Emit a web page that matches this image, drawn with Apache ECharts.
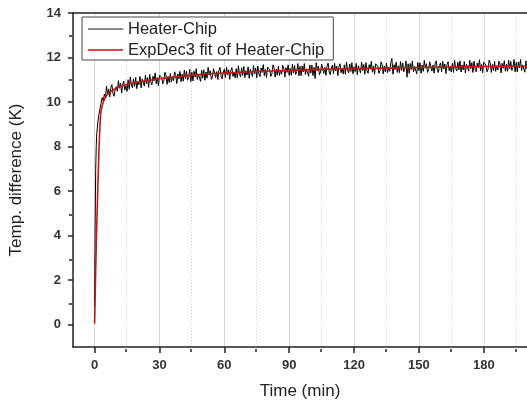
<!DOCTYPE html>
<html><head><meta charset="utf-8">
<script src="https://cdn.jsdelivr.net/npm/echarts@6/dist/echarts.min.js"></script>
<style>html,body{margin:0;padding:0;background:#fff}#c{width:527px;height:405px}</style>
</head><body><div id="c"></div><script>
// measured data (Heater-Chip), time in min
const dataTime = [0,0.25,0.5,0.75,1,1.5,2,2.5,3,3.5,4,4.5,5,
5.5,6,6.5,7,7.5,8,8.5,9,9.5,10,10.5,11,11.5,12,12.5,13,13.5,14,14.5,15,
15.5,16,16.5,17,17.5,18,18.5,19,19.5,20,20.5,21,21.5,22,22.5,23,23.5,24,24.5,25,
25.5,26,26.5,27,27.5,28,28.5,29,29.5,30,30.5,31,31.5,32,32.5,33,33.5,34,34.5,35,
35.5,36,36.5,37,37.5,38,38.5,39,39.5,40,40.5,41,41.5,42,42.5,43,43.5,44,44.5,45,
45.5,46,46.5,47,47.5,48,48.5,49,49.5,50,50.5,51,51.5,52,52.5,53,53.5,54,54.5,55,
55.5,56,56.5,57,57.5,58,58.5,59,59.5,60,60.5,61,61.5,62,62.5,63,63.5,64,64.5,65,
65.5,66,66.5,67,67.5,68,68.5,69,69.5,70,70.5,71,71.5,72,72.5,73,73.5,74,74.5,75,
75.5,76,76.5,77,77.5,78,78.5,79,79.5,80,80.5,81,81.5,82,82.5,83,83.5,84,84.5,85,
85.5,86,86.5,87,87.5,88,88.5,89,89.5,90,90.5,91,91.5,92,92.5,93,93.5,94,94.5,95,
95.5,96,96.5,97,97.5,98,98.5,99,99.5,100,100.5,101,101.5,102,102.5,103,103.5,104,104.5,105,
105.5,106,106.5,107,107.5,108,108.5,109,109.5,110,110.5,111,111.5,112,112.5,113,113.5,114,114.5,115,
115.5,116,116.5,117,117.5,118,118.5,119,119.5,120,120.5,121,121.5,122,122.5,123,123.5,124,124.5,125,
125.5,126,126.5,127,127.5,128,128.5,129,129.5,130,130.5,131,131.5,132,132.5,133,133.5,134,134.5,135,
135.5,136,136.5,137,137.5,138,138.5,139,139.5,140,140.5,141,141.5,142,142.5,143,143.5,144,144.5,145,
145.5,146,146.5,147,147.5,148,148.5,149,149.5,150,150.5,151,151.5,152,152.5,153,153.5,154,154.5,155,
155.5,156,156.5,157,157.5,158,158.5,159,159.5,160,160.5,161,161.5,162,162.5,163,163.5,164,164.5,165,
165.5,166,166.5,167,167.5,168,168.5,169,169.5,170,170.5,171,171.5,172,172.5,173,173.5,174,174.5,175,
175.5,176,176.5,177,177.5,178,178.5,179,179.5,180,180.5,181,181.5,182,182.5,183,183.5,184,184.5,185,
185.5,186,186.5,187,187.5,188,188.5,189,189.5,190,190.5,191,191.5,192,192.5,193,193.5,194,194.5,195,
195.5,196,196.5,197,197.5,198,198.5,199,199.5,200];
const dataTemp = [0.8,4.5,7.0,8.0,8.6,9.1,9.45,9.7,9.95,10.2,10.05,10.35,10.2,
10.72,10.32,10.59,10.23,10.65,10.78,10.38,10.26,10.56,10.69,
10.49,10.96,10.62,10.84,10.41,10.81,10.94,10.54,10.73,10.48,
11.00,10.58,11.13,10.77,10.64,11.04,10.70,11.10,10.60,10.91,
10.78,11.15,10.64,11.04,10.97,10.72,11.21,10.83,11.10,10.66,
11.25,10.89,10.77,11.16,10.96,11.31,10.82,11.10,10.73,11.20,
11.25,11.12,10.82,10.94,11.34,11.21,10.79,11.15,10.88,11.28,
10.90,11.15,10.96,11.36,11.23,10.83,11.26,11.04,11.38,10.91,
11.25,10.94,11.44,11.04,11.38,10.98,11.11,11.47,10.92,11.34,
10.95,11.39,11.12,11.50,11.01,11.26,11.33,10.93,11.44,11.07,
11.45,10.98,11.35,11.07,11.56,11.21,11.41,11.02,11.14,11.50,
11.50,11.10,11.37,11.01,11.43,11.56,11.16,11.04,11.34,11.47,
11.10,11.57,11.23,11.45,11.02,11.42,11.55,11.15,11.34,11.09,
11.50,11.08,11.63,11.27,11.14,11.54,11.20,11.60,11.10,11.41,
11.21,11.58,11.07,11.47,11.40,11.15,11.64,11.26,11.53,11.09,
11.62,11.26,11.14,11.53,11.33,11.68,11.19,11.47,11.10,11.57,
11.58,11.45,11.15,11.27,11.67,11.54,11.12,11.48,11.21,11.61,
11.19,11.44,11.25,11.65,11.52,11.12,11.55,11.33,11.67,11.20,
11.51,11.20,11.70,11.30,11.64,11.24,11.37,11.73,11.18,11.60,
11.18,11.62,11.35,11.73,11.24,11.49,11.56,11.16,11.67,11.30,
11.66,11.19,11.56,11.05,11.77,11.42,11.62,11.23,11.35,11.71,
11.69,11.29,11.56,11.20,11.62,11.75,11.35,11.23,11.53,11.66,
11.27,11.74,11.40,11.62,11.19,11.59,11.72,11.32,11.51,11.26,
11.67,11.25,11.80,11.44,11.31,11.71,11.37,11.77,11.27,11.58,
11.37,11.74,11.23,11.63,11.56,11.31,11.80,11.42,11.69,11.25,
11.77,11.41,11.29,11.68,11.48,11.83,11.34,11.62,11.25,11.72,
11.72,11.59,11.29,11.41,11.81,11.68,11.26,11.62,11.35,11.75,
11.32,11.57,11.38,11.78,11.96,11.25,11.68,11.46,11.80,11.33,
11.63,11.32,11.82,11.42,11.76,11.36,11.49,11.85,11.12,11.72,
11.29,11.73,11.46,11.84,11.35,11.60,11.67,11.27,11.78,11.41,
11.76,11.29,11.66,11.38,11.87,11.52,11.72,11.33,11.45,11.81,
11.79,11.39,11.66,11.30,11.72,11.85,11.45,11.33,11.63,11.76,
11.36,11.83,11.49,11.71,11.28,11.68,11.81,11.41,11.60,11.35,
11.75,11.33,11.88,11.52,11.39,11.79,11.45,11.85,11.35,11.66,
11.45,11.82,11.31,11.71,11.64,11.39,11.88,11.50,11.77,11.33,
11.84,11.48,11.36,11.75,11.55,11.90,11.41,11.69,11.32,11.79,
11.79,11.66,11.36,11.48,11.88,11.75,11.33,11.69,11.42,11.82,
11.38,11.63,11.44,11.84,11.71,11.31,11.74,11.52,11.86,11.39,
11.69,11.38,11.88,11.48,11.82,11.42,11.55,11.91,11.36,11.78,
11.36,11.80,11.53,11.91,11.42,11.67,11.74,11.34,11.85,11.48];
// ExpDec3 fit curve
const fitTime = [0,0.5,1,1.5,2,2.5,3,4,5,6,8,10,15,20,30,40,50,60,75,90,105,120,150,180,200];
const fitTemp = [0.05,2.5,4.5,6.2,7.8,9.0,9.6,10.0,10.2,10.35,10.5,10.62,10.8,10.9,11.05,11.15,11.25,11.3,11.37,11.42,11.47,11.5,11.55,11.6,11.62];
// axis ticks
const xMajorTicks = [0,30,60,90,120,150,180];
const xMinorTicks = [15,45,75,105,135,165,195];
const yMajorTicks = [0,2,4,6,8,10,12,14];
const yMinorTicks = [1,3,5,7,9,11,13];
const seriesNames = ['Heater-Chip','ExpDec3 fit of Heater-Chip'];

const FF = '"Liberation Sans", Arial, sans-serif';
const chart = echarts.init(document.getElementById('c'), null, {renderer:'canvas'});
const gridRect = {left:72, top:13, right:0, bottom:56};
const pair = (xs, ys) => xs.map((x,i)=>[x, ys[i]]);
chart.setOption({
  animation:false,
  backgroundColor:'#fff',
  grid:[Object.assign({}, gridRect), Object.assign({}, gridRect)],
  legend:{
    show:true, orient:'vertical', left:82, top:17,
    padding:[3,9,1,6], itemGap:3, itemWidth:35, itemHeight:2, icon:'rect',
    borderColor:'#444', borderWidth:1, borderRadius:0, backgroundColor:'#fff',
    textStyle:{fontFamily:FF, fontSize:16.5, color:'#222', lineHeight:18},
    data:[
      {name:seriesNames[0], itemStyle:{color:'#8a8a8a'}},
      {name:seriesNames[1], itemStyle:{color:'#e04848'}}
    ]
  },
  xAxis:[
    {type:'value', gridIndex:0, position:'bottom', min:-10, max:200,
     name:'Time (min)', nameLocation:'middle', nameGap:36,
     nameTextStyle:{fontFamily:FF, fontSize:17, color:'#222'},
     axisLine:{show:true, onZero:false, lineStyle:{color:'#222', width:1.5}},
     axisTick:{show:true, inside:false, length:6, customValues:xMajorTicks, lineStyle:{color:'#222', width:1.5}},
     axisLabel:{customValues:xMajorTicks, margin:12, fontFamily:FF, fontSize:13, fontWeight:'bold', color:'#333'},
     splitLine:{show:true, lineStyle:{color:'#d6d6d6', width:1, type:'solid'}}},
    {type:'value', gridIndex:0, position:'top', min:-10, max:200,
     axisLine:{show:true, onZero:false, lineStyle:{color:'#222', width:1.5}},
     axisTick:{show:false}, axisLabel:{show:false}, splitLine:{show:false}},
    {type:'value', gridIndex:1, position:'bottom', min:-10, max:200,
     axisLine:{show:false, onZero:false},
     axisTick:{show:true, inside:false, length:3, customValues:xMinorTicks, lineStyle:{color:'#222', width:1.5}},
     axisLabel:{show:false},
     splitLine:{show:true, lineStyle:{color:'#cfcfcf', width:1, type:[1,2]}}}
  ],
  yAxis:[
    {type:'value', gridIndex:0, min:-1, max:14,
     name:'Temp. difference (K)', nameLocation:'middle', nameGap:48,
     nameTextStyle:{fontFamily:FF, fontSize:17, color:'#222'},
     axisLine:{show:true, onZero:false, lineStyle:{color:'#222', width:1.5}},
     axisTick:{show:true, inside:false, length:5, customValues:yMajorTicks, lineStyle:{color:'#222', width:1.5}},
     axisLabel:{customValues:yMajorTicks, margin:12, fontFamily:FF, fontSize:13, fontWeight:'bold', color:'#333'},
     splitLine:{show:false}},
    {type:'value', gridIndex:1, min:-1, max:14,
     axisLine:{show:false, onZero:false},
     axisTick:{show:true, inside:false, length:3, customValues:yMinorTicks, lineStyle:{color:'#222', width:1.5}},
     axisLabel:{show:false}, splitLine:{show:false}}
  ],
  series:[
    {name:seriesNames[0], type:'line', xAxisIndex:0, yAxisIndex:0, symbol:'none', sampling:null,
     data:pair(dataTime, dataTemp), lineStyle:{color:'#000', width:1}, itemStyle:{color:'#000'}, z:3},
    {name:seriesNames[1], type:'line', xAxisIndex:0, yAxisIndex:0, symbol:'none', smooth:0.2,
     data:pair(fitTime, fitTemp), lineStyle:{color:'#c81414', width:1.6}, itemStyle:{color:'#c81414'}, z:4}
  ]
});
</script></body></html>
